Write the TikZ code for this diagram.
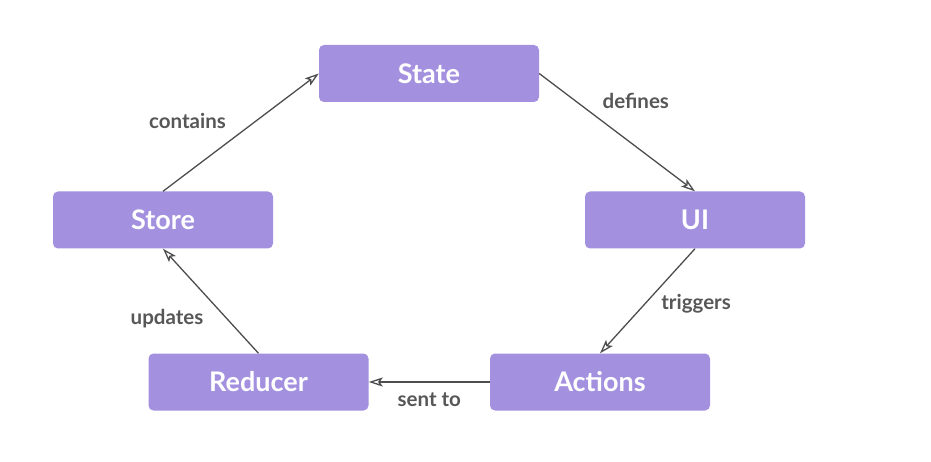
\documentclass[tikz,border=0pt]{standalone}
\usepackage{fontspec}
\setmainfont{Lato}
\usepackage{tikz}
\usetikzlibrary{arrows.meta}
\definecolor{boxfill}{HTML}{A391DF}
\definecolor{labelgrey}{HTML}{575757}
\definecolor{linegrey}{HTML}{4D4D4D}

\begin{document}
\begin{tikzpicture}[x=1pt,y=-1pt,
    stage/.style={fill=boxfill,
        rounded corners=5pt,
        minimum width=220pt,
        minimum height=57pt,
        text=white,
        font=\fontsize{27}{32}\selectfont\bfseries},
    flow/.style={draw=linegrey,line width=1.3pt,
        -{Stealth[open,length=14pt,width=9pt,inset=3pt]}},
    lbl/.style={text=labelgrey,inner sep=0pt,
        font=\fontsize{20.5}{24}\selectfont\bfseries}
]
\useasboundingbox (0,0) rectangle (931,462);

\node[stage] (state) at (429,73.5) { State };
\node[stage] (ui) at (695,220) { UI };
\node[stage] (store) at (163,220) { Store };
\node[stage] (reducer) at (258.5,382) { Reducer };
\node[stage] (actions) at (600,382) { Actions };

\draw[flow] (store.north) -- (state.west) node [lbl,pos=0.6,left=30pt] { contains };
\draw[flow] (state.east) -- (ui.north) node [lbl,pos=0.23,right=27pt] { defines };
\draw[flow] (ui.south) -- (actions.north) node [lbl,pos=0.53,right=16pt] { triggers };
\draw[flow] (actions.west) -- (reducer.east) node [lbl,pos=0.5,below=10pt] { sent to };
\draw[flow] (reducer.north) -- (store.south) node [lbl,pos=0.33,left=23pt] { updates };

\end{tikzpicture}
\end{document}
